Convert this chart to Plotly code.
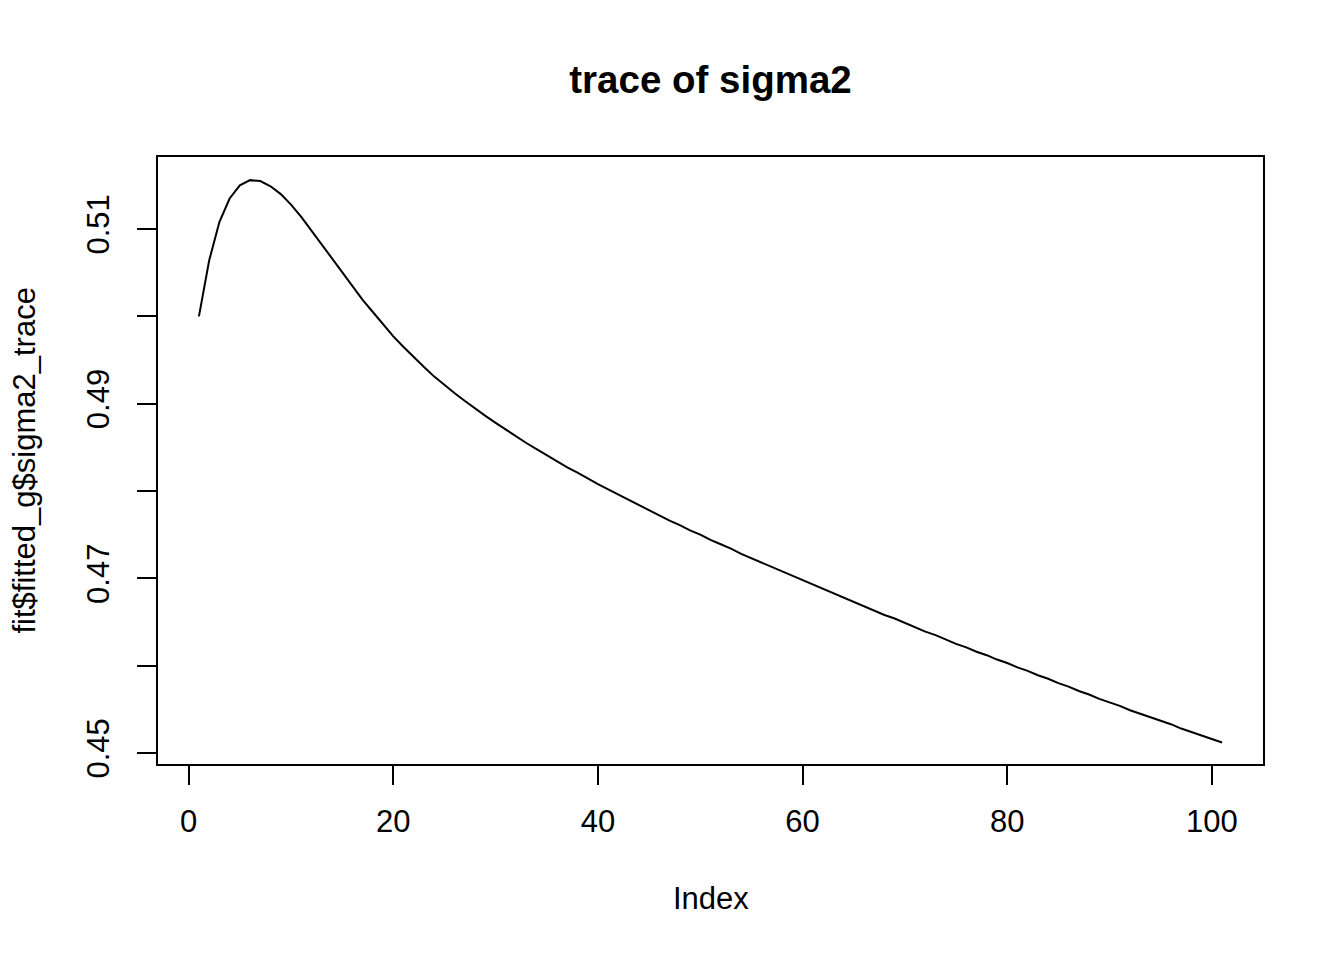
import plotly.graph_objects as go

index = list(range(1, 102))
sigma2_trace = [
    0.5000, 0.5064, 0.5108, 0.5135, 0.5150, 0.5156, 0.5155, 0.5149, 0.5140, 0.5128,
    0.5114, 0.5098, 0.5082, 0.5066, 0.5050, 0.5034, 0.5019, 0.5005, 0.4991, 0.4977,
    0.4965, 0.4953, 0.4942, 0.4931, 0.4921, 0.4912, 0.4903, 0.4894, 0.4886, 0.4878,
    0.4870, 0.4862, 0.4855, 0.4848, 0.4841, 0.4834, 0.4827, 0.4821, 0.4814, 0.4808,
    0.4802, 0.4796, 0.4790, 0.4784, 0.4778, 0.4772, 0.4766, 0.4761, 0.4755, 0.4750,
    0.4744, 0.4739, 0.4734, 0.4728, 0.4723, 0.4718, 0.4713, 0.4708, 0.4703, 0.4698,
    0.4693, 0.4688, 0.4683, 0.4678, 0.4673, 0.4668, 0.4663, 0.4658, 0.4654, 0.4649,
    0.4644, 0.4639, 0.4635, 0.4630, 0.4625, 0.4621, 0.4616, 0.4612, 0.4607, 0.4603,
    0.4598, 0.4594, 0.4589, 0.4585, 0.4580, 0.4576, 0.4571, 0.4567, 0.4562, 0.4558,
    0.4554, 0.4549, 0.4545, 0.4541, 0.4537, 0.4533, 0.4528, 0.4524, 0.4520, 0.4516,
    0.4512,
]
x_ticks = [0, 20, 40, 60, 80, 100]
y_ticks = [0.45, 0.46, 0.47, 0.48, 0.49, 0.50, 0.51]
y_tick_labels = ["0.45", "", "0.47", "", "0.49", "", "0.51"]

title_text = "trace of sigma2"
x_title = "Index"
y_title = "fit$fitted_g$sigma2_trace"

FONT = "Liberation Sans, Arial, Helvetica, sans-serif"
FS = 31

fig = go.Figure()
fig.add_trace(go.Scatter(x=index, y=sigma2_trace, mode="lines",
                         line=dict(color="black", width=2), showlegend=False,
                         hoverinfo="skip"))

# page places the figure at an 8px offset; compensate
OFF = 8
W, H = 1344 - OFF, 960 - OFF
L, R, T, B = 158 - OFF, 81, 157 - OFF, 196
pw = W - L - R
ph = H - T - B

fig.update_layout(
    width=W, height=H,
    margin=dict(l=L, r=R, t=T, b=B, autoexpand=False),
    paper_bgcolor="white", plot_bgcolor="white",
    font=dict(family=FONT, size=FS, color="black"),
    title=dict(text="<b>" + title_text + "</b>", x=0.5, xref="paper",
               xanchor="center", y=1 - (80 - OFF) / H, yanchor="middle",
               font=dict(family=FONT, size=38.5, color="black")),
    xaxis=dict(range=[-3, 105], tickvals=x_ticks, ticktext=[str(v) for v in x_ticks],
               showgrid=False, zeroline=False, showline=True, mirror=True,
               linecolor="black", linewidth=2, ticks="outside", ticklen=19,
               tickwidth=2, tickcolor="black", ticklabelstandoff=10,
               tickfont=dict(family=FONT, size=FS, color="black")),
    yaxis=dict(range=[0.44874, 0.51825], tickvals=y_ticks, ticktext=y_tick_labels,
               showgrid=False, zeroline=False, showline=True, mirror=True,
               linecolor="black", linewidth=2, ticks="outside", ticklen=19,
               tickwidth=2, tickcolor="black", tickangle=-90, ticklabelstandoff=16,
               tickfont=dict(family=FONT, size=FS, color="black")),
    annotations=[
        dict(text=x_title, xref="paper", yref="paper", x=0.5,
             y=(764 - 898) / ph, xanchor="center", yanchor="middle",
             showarrow=False, font=dict(family=FONT, size=FS, color="black")),
        dict(text=y_title, xref="paper", yref="paper", x=(24 - 158) / pw,
             y=0.5, xanchor="center", yanchor="middle", textangle=-90,
             showarrow=False, font=dict(family=FONT, size=FS, color="black")),
    ],
)

fig.write_html("out.html")
